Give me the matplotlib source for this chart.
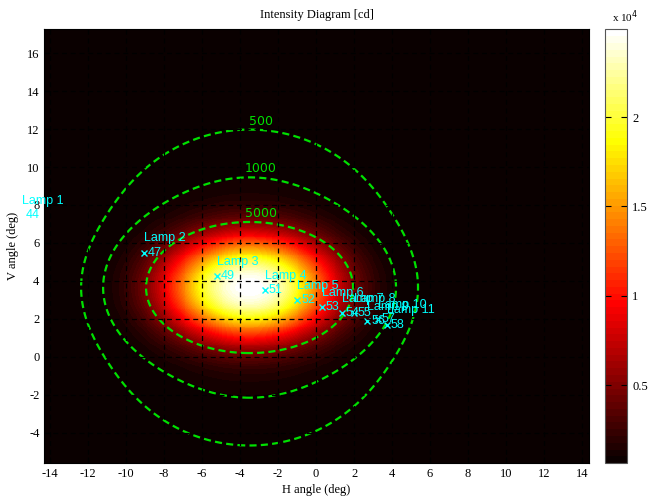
import numpy as np
import matplotlib
matplotlib.use('Agg')
from matplotlib import pyplot as plt

plt.rcParams['axes.unicode_minus'] = False

# lamp aiming points (deg)
lamp_names = ['Lamp 1', 'Lamp 2', 'Lamp 3', 'Lamp 4', 'Lamp 5', 'Lamp 6',
              'Lamp 7', 'Lamp 8', 'Lamp 9', 'Lamp 10', 'Lamp 11']
lamp_h = [-15.5, -9.05, -5.23, -2.68, -0.98, 0.30, 1.35, 2.0, 2.7, 3.25, 3.72]
lamp_v = [7.47, 5.49, 4.27, 3.53, 3.0, 2.62, 2.32, 2.3, 1.9, 2.0, 1.69]
lamp_values = [44, 47, 49, 51, 52, 53, 54, 55, 56, 57, 58]

# intensity field, estimated from the colours / contours of the picture
peak_h, peak_v = -3.5, 3.65
core_cd, core_h, core_v, core_p = 23100, 4.30, 2.66, 2.4
halo_cd, halo_h, halo_v = 1800, 5.2, 5.2
contour_levels = [500, 1000, 5000]
cbar_ticks = [5000, 10000, 15000, 20000]
cbar_labels = ['0.5', '1', '1.5', '2']
clim = (650, 24900)

h_grid = np.arange(-14.3, 14.36, 0.05)
v_grid = np.arange(-5.6, 17.26, 0.05)
H, V = np.meshgrid(h_grid, v_grid)
dh, dv = H - peak_h, V - peak_v
r_core = np.sqrt((dh / core_h) ** 2 + (dv / core_v) ** 2)
intensity = (core_cd * np.exp(-r_core ** core_p)
             + halo_cd * np.exp(-0.5 * ((dh / halo_h) ** 2 + (dv / halo_v) ** 2)))

serif = 'Liberation Serif'
green = '#00e000'

fig = plt.figure(figsize=(6.52, 4.99), dpi=100)
ax = fig.add_axes([0.068, 0.072, 0.835, 0.869])
cax = fig.add_axes([0.928, 0.072, 0.034, 0.869])

img = ax.imshow(intensity, origin='lower', cmap=plt.get_cmap('hot', 64),
                extent=[h_grid[0], h_grid[-1], v_grid[0], v_grid[-1]],
                vmin=clim[0], vmax=clim[1], aspect='auto', interpolation='nearest')

cs = ax.contour(H, V, intensity, levels=contour_levels, colors=green,
                linewidths=1.6, linestyles=[(0, (3.2, 1.9))])
for level, segs in zip(contour_levels, cs.allsegs):
    top = max(seg[:, 1].max() for seg in segs)
    ax.text(-2.9, top + 0.45, str(level), color=green, fontsize=9,
            ha='center', va='center', family='DejaVu Sans')

ax.set_xticks(np.arange(-14, 15, 2))
ax.set_yticks(np.arange(-4, 17, 2))
ax.grid(True, color='k', linestyle=(0, (4, 3)), linewidth=0.9)
ax.set_axisbelow(False)
ax.set_xlim(-14.3, 14.35)
ax.set_ylim(-5.6, 17.25)
ax.tick_params(direction='in', length=4, labelsize=9)
for lbl in ax.get_xticklabels() + ax.get_yticklabels():
    lbl.set_family(serif)

ax.plot(lamp_h, lamp_v, 'x', color='cyan', markersize=4, mew=1.0)
for name, h, v, val in zip(lamp_names, lamp_h, lamp_v, lamp_values):
    ax.text(h, v + 0.75, name, color='cyan', fontsize=9, family='Liberation Sans',
            ha='left', va='center')
    ax.text(h + 0.2, v, str(val), color='cyan', fontsize=9, family='Liberation Sans',
            ha='left', va='center')

ax.set_title('Intensity Diagram [cd]', family=serif, fontsize=9, pad=8)
ax.set_xlabel('H angle (deg)', family=serif, fontsize=9, labelpad=3)
ax.set_ylabel('V angle (deg)', family=serif, fontsize=9, labelpad=6)

cb = fig.colorbar(img, cax=cax, ticks=cbar_ticks)
cb.ax.set_yticklabels(cbar_labels, family=serif, fontsize=9)
cb.ax.tick_params(direction='in', left=True, right=True, length=4, width=0.8)
cb.outline.set_edgecolor('#555555')
cax.text(0.3, 1.01, 'x 10$^4$', transform=cax.transAxes, family=serif,
         fontsize=8, ha='left', va='bottom')

fig.savefig('out.png', dpi=100)
